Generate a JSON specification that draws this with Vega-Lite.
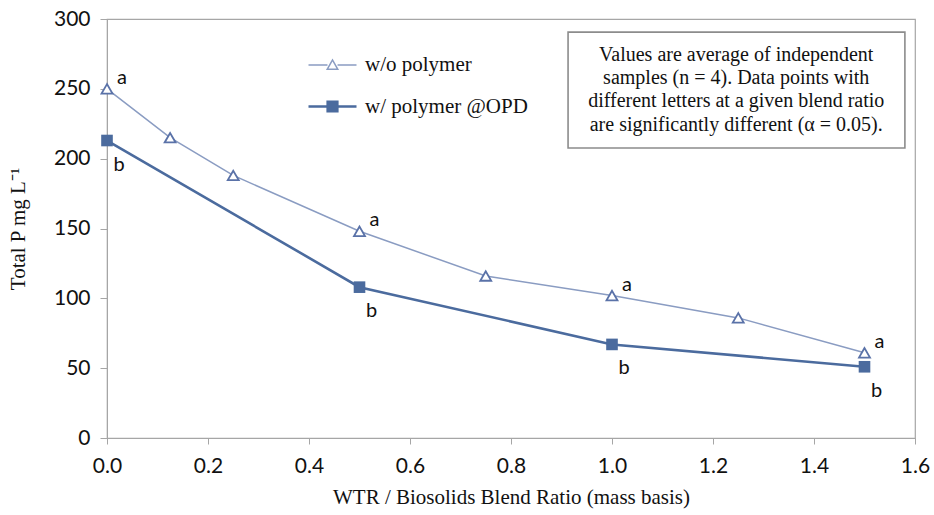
{
  "$schema": "https://vega.github.io/schema/vega-lite/v6.json",
  "width": 808,
  "height": 419,
  "autosize": {"type": "none"},
  "padding": {"left": 107, "top": 19, "right": 19, "bottom": 77},
  "background": "white",
  "config": {
    "view": {"stroke": "#a6a6a6", "strokeWidth": 1.2},
    "axis": {
      "domainColor": "#a6a6a6",
      "tickColor": "#a6a6a6",
      "grid": false,
      "labelFont": "Lato",
      "labelFontSize": 21,
      "labelColor": "#111111",
      "labelFlush": false,
      "labelOverlap": false,
      "titleFont": "Liberation Serif",
      "titleFontSize": 21,
      "titleFontWeight": "normal",
      "titleColor": "#111111"
    }
  },
  "datasets": {
    "series": [
      {"ratio": 0.0, "totalP": 250, "series": "w/o polymer", "letter": "a"},
      {"ratio": 0.125, "totalP": 215, "series": "w/o polymer", "letter": null},
      {"ratio": 0.25, "totalP": 188, "series": "w/o polymer", "letter": null},
      {"ratio": 0.5, "totalP": 148, "series": "w/o polymer", "letter": "a"},
      {"ratio": 0.75, "totalP": 116, "series": "w/o polymer", "letter": null},
      {"ratio": 1.0, "totalP": 102, "series": "w/o polymer", "letter": "a"},
      {"ratio": 1.25, "totalP": 86, "series": "w/o polymer", "letter": null},
      {"ratio": 1.5, "totalP": 61, "series": "w/o polymer", "letter": "a"},
      {"ratio": 0.0, "totalP": 213, "series": "w/ polymer @OPD", "letter": "b"},
      {"ratio": 0.5, "totalP": 108, "series": "w/ polymer @OPD", "letter": "b"},
      {"ratio": 1.0, "totalP": 67, "series": "w/ polymer @OPD", "letter": "b"},
      {"ratio": 1.5, "totalP": 51, "series": "w/ polymer @OPD", "letter": "b"}
    ],
    "note": [
      {"lines": ["Values are average of independent", "samples (n = 4). Data points with", "different letters at a given blend ratio", "are significantly different (α = 0.05)."]}
    ]
  },
  "layer": [
    {
      "data": {"name": "series"},
      "mark": {"type": "line", "interpolate": "linear"},
      "encoding": {
        "x": {
          "field": "ratio", "type": "quantitative",
          "scale": {"domain": [0, 1.6], "nice": false},
          "axis": {"values": [0, 0.2, 0.4, 0.6, 0.8, 1.0, 1.2, 1.4, 1.6], "format": ".1f", "tickSize": 6, "labelPadding": 11, "titlePadding": 10},
          "title": "WTR / Biosolids Blend Ratio (mass basis)"
        },
        "y": {
          "field": "totalP", "type": "quantitative",
          "scale": {"domain": [0, 300], "nice": false},
          "axis": {"values": [0, 50, 100, 150, 200, 250, 300], "tickSize": 7, "labelPadding": 10, "titlePadding": 25},
          "title": "Total P mg L⁻¹"
        },
        "color": {
          "field": "series", "type": "nominal",
          "scale": {"domain": ["w/o polymer", "w/ polymer @OPD"], "range": ["#8a9cc2", "#4b6b9e"]},
          "legend": {
            "orient": "none",
            "legendX": 200,
            "legendY": 21,
            "title": null,
            "padding": 0,
            "symbolSize": 2304,
            "rowPadding": 6,
            "labelOffset": 7,
            "labelFont": "Liberation Serif",
            "labelFontSize": 21,
            "labelColor": "#111111",
            "labelLimit": 400,
            "encode": {
              "symbols": {
                "update": {
                  "shape": [
                    {"test": "datum.label === 'w/o polymer'", "value": "M-1,0H-0.21M0.21,0H1M-0.22,0.18L0.22,0.18L0,-0.21Z"},
                    {"value": "M-1,0H-0.2M0.2,0H1M-0.2,-0.2H0.2V0.2H-0.2Z"}
                  ],
                  "fill": [
                    {"test": "datum.label === 'w/o polymer'", "value": "white"},
                    {"value": "#4b6b9e"}
                  ],
                  "fillOpacity": {"value": 1},
                  "stroke": [
                    {"test": "datum.label === 'w/o polymer'", "value": "#7f93bb"},
                    {"value": "#4b6b9e"}
                  ],
                  "strokeWidth": [
                    {"test": "datum.label === 'w/o polymer'", "value": 1.5},
                    {"value": 2}
                  ]
                }
              }
            }
          }
        },
        "strokeWidth": {
          "field": "series", "type": "nominal",
          "scale": {"domain": ["w/o polymer", "w/ polymer @OPD"], "range": [1.5, 2.6]},
          "legend": null
        }
      }
    },
    {
      "data": {"name": "series"},
      "transform": [{"filter": "datum.series === 'w/o polymer'"}],
      "mark": {"type": "point", "shape": "triangle-up", "size": 120, "filled": false, "fill": "white", "fillOpacity": 1, "stroke": "#5a72a8", "strokeWidth": 1.8, "opacity": 1},
      "encoding": {
        "x": {"field": "ratio", "type": "quantitative"},
        "y": {"field": "totalP", "type": "quantitative"}
      }
    },
    {
      "data": {"name": "series"},
      "transform": [{"filter": "datum.series === 'w/ polymer @OPD'"}],
      "mark": {"type": "point", "shape": "square", "size": 135, "filled": true, "fill": "#4b6b9e", "opacity": 1},
      "encoding": {
        "x": {"field": "ratio", "type": "quantitative"},
        "y": {"field": "totalP", "type": "quantitative"}
      }
    },
    {
      "data": {"name": "series"},
      "transform": [{"filter": "datum.letter === 'a'"}],
      "mark": {"type": "text", "font": "Lato", "fontSize": 20, "color": "#111111", "dx": 15, "dy": -11, "align": "center", "baseline": "middle"},
      "encoding": {
        "x": {"field": "ratio", "type": "quantitative"},
        "y": {"field": "totalP", "type": "quantitative"},
        "text": {"field": "letter"}
      }
    },
    {
      "data": {"name": "series"},
      "transform": [{"filter": "datum.letter === 'b'"}],
      "mark": {"type": "text", "font": "Lato", "fontSize": 20, "color": "#111111", "dx": 12, "dy": 24, "align": "center", "baseline": "middle"},
      "encoding": {
        "x": {"field": "ratio", "type": "quantitative"},
        "y": {"field": "totalP", "type": "quantitative"},
        "text": {"field": "letter"}
      }
    },
    {
      "data": {"name": "note"},
      "mark": {"type": "rect", "fill": "white", "stroke": "#8c8c8c", "strokeWidth": 1.6},
      "encoding": {
        "x": {"datum": 0.913, "type": "quantitative"},
        "x2": {"datum": 1.58},
        "y": {"datum": 290.6, "type": "quantitative"},
        "y2": {"datum": 207.6}
      }
    },
    {
      "data": {"name": "note"},
      "mark": {"type": "text", "font": "Liberation Serif", "fontSize": 20, "lineHeight": 23.2, "color": "#111111", "align": "center", "baseline": "middle"},
      "encoding": {
        "x": {"datum": 1.246, "type": "quantitative"},
        "y": {"datum": 274.2, "type": "quantitative"},
        "text": {"field": "lines"}
      }
    }
  ]
}
